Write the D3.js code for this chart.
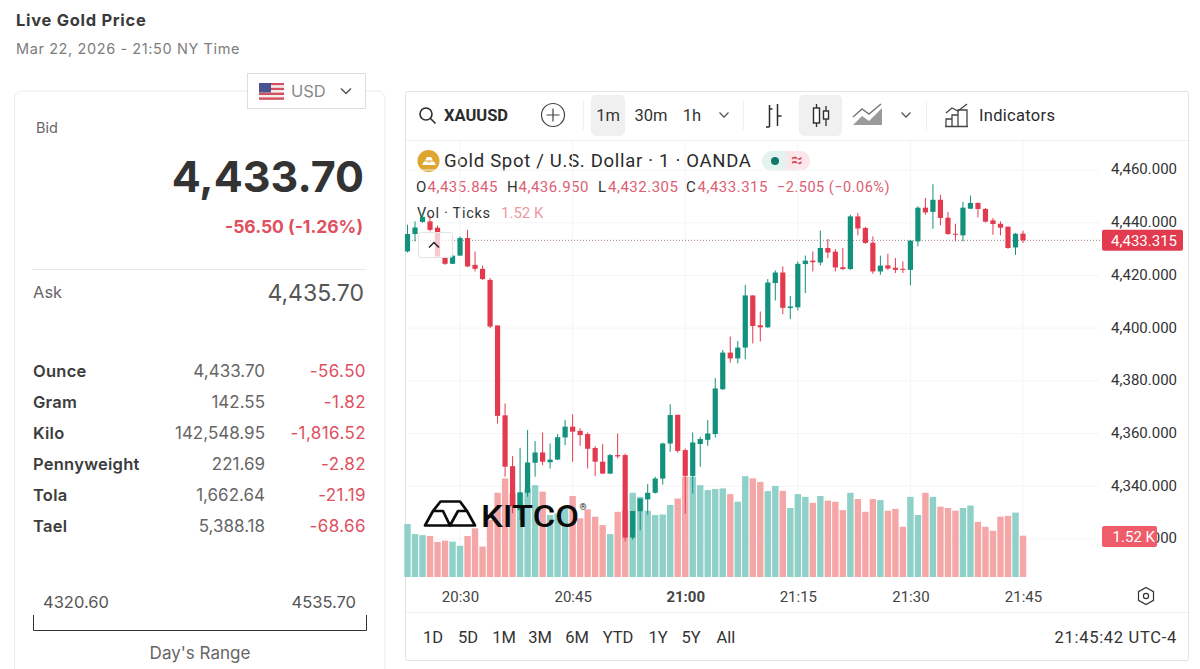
<!DOCTYPE html>
<html>
<head>
<meta charset="utf-8">
<title>Live Gold Price</title>
<script src="https://cdn.jsdelivr.net/npm/d3@7"></script>
<style>
html, body { margin: 0; padding: 0; background: #fff; overflow: hidden; }
svg { display: block; }
.ui { font-family: Inter, Lato, "Noto Sans", sans-serif; }
.tv { font-family: Roboto, "Noto Sans", sans-serif; }
</style>
</head>
<body>
<svg id="chart" width="1200" height="669"></svg>
<script>
// one minute candles, 20:23 to 21:45
var startMinute = 20 * 60 + 23;
var opens = [4429.1,4435.7,4440.3,4440.5,4438.1,4426.8,4424.4,4427.5,4434.2,4424.0,4422.5,4418.3,4401.0,4366.9,4347.6,4330.9,4337.5,4348.9,4352.8,4349.1,4350.1,4358.5,4362.6,4361.0,4359.8,4354.5,4349.3,4344.8,4351.8,4351.8,4320.5,4330.5,4335.0,4337.5,4342.9,4356.2,4367.1,4353.7,4343.9,4356.0,4357.6,4359.8,4376.8,4390.7,4388.5,4392.6,4412.4,4401.1,4400.3,4417.1,4421.1,4407.6,4407.9,4424.3,4425.6,4424.9,4430.4,4429.0,4423.1,4422.4,4442.4,4438.0,4432.4,4421.5,4423.8,4422.9,4422.5,4422.1,4432.9,4445.7,4444.1,4448.7,4441.9,4435.8,4435.2,4445.3,4447.5,4445.2,4440.9,4439.6,4438.5,4430.6,4435.845];
var highs = [4439.2,4440.5,4443.7,4442.7,4438.9,4427.2,4429.1,4434.8,4437.3,4429.1,4423.7,4419.0,4401.1,4371.4,4351.4,4354.6,4361.3,4357.1,4360.4,4356.2,4359.8,4365.1,4367.3,4362.0,4360.4,4355.2,4356.0,4352.2,4360.0,4352.4,4330.6,4335.3,4340.8,4343.6,4356.5,4371.1,4367.1,4354.3,4360.4,4358.8,4365.1,4381.0,4391.7,4396.8,4395.1,4416.4,4412.4,4406.3,4418.6,4421.9,4423.4,4412.2,4425.3,4427.5,4429.1,4437.0,4433.8,4430.0,4430.4,4443.0,4443.7,4438.4,4434.8,4427.5,4428.2,4426.6,4425.3,4433.4,4446.2,4449.4,4454.6,4450.6,4444.1,4439.6,4447.9,4450.3,4447.7,4445.6,4441.8,4440.5,4438.5,4436.1,4436.95];
var lows = [4428.7,4432.9,4440.0,4436.7,4427.0,4424.0,4424.3,4427.5,4423.1,4421.5,4418.3,4400.0,4363.8,4343.6,4329.7,4327.1,4336.0,4343.6,4348.0,4346.7,4349.9,4355.6,4349.3,4355.3,4346.7,4343.8,4344.6,4344.6,4350.5,4319.1,4319.7,4323.3,4329.2,4337.2,4340.6,4353.1,4352.7,4329.6,4337.2,4347.4,4355.3,4358.5,4376.5,4386.9,4386.6,4388.2,4394.2,4394.9,4400.1,4410.5,4405.3,4403.4,4406.7,4413.3,4421.5,4423.8,4426.6,4421.5,4422.1,4422.1,4435.2,4432.0,4420.6,4420.2,4422.1,4420.9,4420.9,4416.2,4431.0,4443.0,4437.7,4439.0,4435.4,4432.9,4432.9,4445.2,4442.0,4440.1,4435.4,4435.2,4430.1,4427.8,4432.305];
var closes = [4435.7,4438.2,4442.2,4437.3,4427.2,4424.4,4427.5,4434.2,4423.4,4422.5,4418.6,4400.6,4366.7,4347.4,4332.4,4337.7,4349.0,4352.8,4349.3,4350.1,4358.6,4362.6,4360.7,4359.4,4354.2,4349.3,4344.8,4351.8,4351.3,4320.5,4330.6,4335.3,4337.5,4342.9,4356.2,4367.0,4353.4,4343.9,4356.6,4357.9,4360.0,4377.1,4390.7,4388.5,4392.6,4412.4,4400.8,4400.3,4417.3,4421.1,4407.7,4408.2,4424.4,4425.6,4425.0,4430.4,4428.7,4423.0,4422.4,4442.4,4437.8,4432.3,4421.5,4423.7,4422.6,4422.1,4422.1,4433.2,4445.7,4443.9,4448.7,4441.8,4435.7,4435.6,4445.7,4447.5,4445.2,4440.4,4439.5,4438.1,4430.4,4435.8,4433.315];
var volumes = [1.95,1.58,1.54,1.51,1.29,1.34,1.30,1.15,1.51,1.79,1.12,2.10,3.10,3.63,3.08,3.08,3.26,3.38,3.14,2.28,2.34,2.52,2.98,2.16,2.49,2.22,1.91,1.58,2.40,2.46,3.10,2.95,2.44,2.28,2.30,2.65,2.89,3.69,3.69,3.38,3.20,3.24,3.26,3.05,2.77,3.71,3.63,3.50,3.16,3.35,3.17,2.54,3.05,2.95,2.73,2.98,2.81,2.77,2.46,3.10,2.87,2.40,2.87,2.83,2.44,2.51,1.85,2.95,2.28,3.10,2.95,2.59,2.54,2.44,2.54,2.63,2.03,1.85,1.70,2.22,2.25,2.37,1.52];

var priceTicks = [4320, 4340, 4360, 4380, 4400, 4420, 4440, 4460];
var timeTicks = ["20:30", "20:45", "21:00", "21:15", "21:30", "21:45"];
var lastPrice = 4433.315;
var lastVolume = 1.52;

var rangeButtons = ["1D", "5D", "1M", "3M", "6M", "YTD", "1Y", "5Y", "All"];
var unitNames = ["Ounce", "Gram", "Kilo", "Pennyweight", "Tola", "Tael"];
var unitPrices = ["4,433.70", "142.55", "142,548.95", "221.69", "1,662.64", "5,388.18"];
var unitChanges = ["-56.50", "-1.82", "-1,816.52", "-2.82", "-21.19", "-68.66"];
var ohlcLabels = ["O", "H", "L", "C"];
var ohlcValues = ["4,435.845", "4,436.950", "4,432.305", "4,433.315"];

var GREEN = "#12917c", RED = "#e23a4e", GREEN_VOL = "#8fd0c9", RED_VOL = "#f5a7a8";
var PALE_RED = "#dc6072";

var svg = d3.select("#chart");

function addText(parent, x, y, str, opts) {
    opts = opts || {};
    return parent.append("text")
        .attr("class", opts.cls || "ui")
        .attr("x", x).attr("y", y)
        .attr("dy", "0.35em")
        .attr("text-anchor", opts.anchor || "start")
        .attr("font-size", opts.size || 14)
        .attr("font-weight", opts.weight || 400)
        .attr("letter-spacing", opts.spacing || 0)
        .attr("fill", opts.fill || "#333")
        .text(str);
}

function parseMinute(d) {
    var parts = d.split(":");
    return +parts[0] * 60 + +parts[1];
}

// ---- scales
var x = d3.scaleLinear().domain([startMinute, parseMinute("21:45")]).range([407.5, 1023]);
var yPrice = d3.scaleLinear().domain([4360, 4440]).range([433.5, 222.7]);
var yVol = d3.scaleLinear().domain([0, lastVolume]).range([577, 535.7]);

var candles = d3.range(closes.length).map(function (i) {
    return {
        minute: startMinute + i, open: opens[i], high: highs[i], low: lows[i],
        close: closes[i], volume: volumes[i], up: closes[i] >= opens[i]
    };
});

// ---- left panel
function drawLeftPanel() {
    addText(svg, 16, 20, "Live Gold Price", { size: 16.5, weight: 700, spacing: 0.7, fill: "#3a3a3a" });
    addText(svg, 16, 49, "Mar 22, 2026 - 21:50 NY Time", { size: 14.5, spacing: 0.6, fill: "#7d7d7d" });

    svg.append("path")
        .attr("d", "M14.5,669V99a8,8 0 0 1 8,-8H377a8,8 0 0 1 8,8V669")
        .attr("fill", "#fff").attr("stroke", "#ebebeb");

    // currency picker
    svg.append("rect").attr("x", 247.5).attr("y", 73.5).attr("width", 118).attr("height", 35)
        .attr("fill", "#fff").attr("stroke", "#dedede");
    var flag = svg.append("g").attr("transform", "translate(259,83)");
    d3.range(7).forEach(function (i) {
        flag.append("rect").attr("y", i * 2.4).attr("width", 25).attr("height", 2.4)
            .attr("fill", i % 2 ? "#f3eeee" : "#d2505f");
    });
    flag.append("rect").attr("width", 12).attr("height", 9.5).attr("fill", "#4a5590");
    addText(svg, 291, 91, "USD", { size: 16.5, fill: "#8a8a8a" });
    svg.append("path").attr("d", "M341,88.5l5,5l5,-5").attr("fill", "none").attr("stroke", "#555").attr("stroke-width", 1.5);

    addText(svg, 36, 128, "Bid", { size: 14.5, fill: "#666" });
    addText(svg, 364, 177, "4,433.70", { size: 43, weight: 700, anchor: "end", fill: "#333" });
    addText(svg, 363, 227, "-56.50 (-1.26%)", { size: 17.5, weight: 700, anchor: "end", fill: "#e0505f" });
    svg.append("line").attr("x1", 32).attr("x2", 366).attr("y1", 269.5).attr("y2", 269.5).attr("stroke", "#e8e8e8");
    addText(svg, 33, 292.5, "Ask", { size: 16.5, fill: "#666" });
    addText(svg, 364, 292.5, "4,435.70", { size: 23, anchor: "end", fill: "#555" });

    var rowY = d3.scalePoint().domain(unitNames).range([371, 526]);
    unitNames.forEach(function (name, i) {
        addText(svg, 33, rowY(name), name, { size: 16.5, weight: 600, spacing: 0.25, fill: "#3c3c3c" });
        addText(svg, 265, rowY(name), unitPrices[i], { size: 17, anchor: "end", fill: "#666" });
        addText(svg, 366, rowY(name), unitChanges[i], { size: 17, spacing: 0.4, anchor: "end", fill: "#e0505f" });
    });

    addText(svg, 43, 602, "4320.60", { size: 16.5, fill: "#555" });
    addText(svg, 356, 602, "4535.70", { size: 16.5, anchor: "end", fill: "#555" });
    svg.append("path").attr("d", "M33.5,615V630.5H366.5V615").attr("fill", "none").attr("stroke", "#333");
    addText(svg, 200, 653, "Day's Range", { size: 17, anchor: "middle", fill: "#666" });
}

// ---- toolbar above the chart
function drawToolbar() {
    svg.append("rect").attr("x", 405.5).attr("y", 91.5).attr("width", 783).attr("height", 569)
        .attr("rx", 2).attr("fill", "#fff").attr("stroke", "#e2e2e2");
    svg.append("line").attr("x1", 406).attr("x2", 1188).attr("y1", 140.5).attr("y2", 140.5).attr("stroke", "#efefef");

    svg.append("rect").attr("x", 591).attr("y", 95).attr("width", 34).attr("height", 41).attr("rx", 5).attr("fill", "#f0f0f0");
    svg.append("rect").attr("x", 799).attr("y", 95).attr("width", 43).attr("height", 41).attr("rx", 5).attr("fill", "#f0f0f0");
    [583, 743, 926].forEach(function (px) {
        svg.append("line").attr("x1", px + 0.5).attr("x2", px + 0.5).attr("y1", 101).attr("y2", 130).attr("stroke", "#f0f0f0");
    });

    var ink = "#2b2b2b";
    function stroke(d, w, col) {
        return svg.append("path").attr("d", d).attr("fill", "none").attr("stroke", col || ink).attr("stroke-width", w || 1.4);
    }
    // magnifier
    svg.append("circle").attr("cx", 426).attr("cy", 114).attr("r", 6).attr("fill", "none").attr("stroke", ink).attr("stroke-width", 1.6);
    stroke("M430.5,118.5l5,5", 1.6);
    addText(svg, 444, 115, "XAUUSD", { cls: "tv", size: 16.5, weight: 700, fill: "#2b2b2b" });
    // compare button
    svg.append("circle").attr("cx", 553).attr("cy", 115).attr("r", 11.5).attr("fill", "none").attr("stroke", "#444").attr("stroke-width", 1.2);
    stroke("M553,108.5v13M546.5,115h13", 1.2, "#444");

    addText(svg, 608, 115, "1m", { cls: "tv", size: 16.5, anchor: "middle" });
    addText(svg, 651, 115, "30m", { cls: "tv", size: 16.5, anchor: "middle" });
    addText(svg, 692, 115, "1h", { cls: "tv", size: 16.5, anchor: "middle" });
    stroke("M719.5,112.5l4.5,4.5l4.5,-4.5", 1.3, "#555");

    // bar style icon
    stroke("M769.5,105v22M766,127h3.5M777.5,104v22M777.5,116h4M769.5,109h3", 1.5);
    // candle style icon
    stroke("M816.5,104v23M826,106v20", 1.3);
    svg.append("rect").attr("x", 813.5).attr("y", 108).attr("width", 6).attr("height", 15).attr("fill", "#fff").attr("stroke", ink).attr("stroke-width", 1.4);
    svg.append("rect").attr("x", 823.5).attr("y", 111).attr("width", 5).attr("height", 8).attr("fill", "#fff").attr("stroke", ink).attr("stroke-width", 1.4);
    // area style icon
    svg.append("path").attr("d", "M853,125l9,-9l7,5l13,-13v17z").attr("fill", "#9a9a9a");
    stroke("M853,117l9,-8l7,5l12,-10", 1.4, "#777");
    stroke("M901.5,112.5l4.5,4.5l4.5,-4.5", 1.3, "#555");
    // indicators icon
    stroke("M946,113l6,-5l6,3l9,-7", 1.3, "#444");
    stroke("M946,126v-7h6v7M952,126v-11h6v11M958,126v-16h9v16M945,126.5h23", 1.3, "#444");
    addText(svg, 979, 115, "Indicators", { cls: "tv", size: 16.5, spacing: 0.3, fill: "#2b2b2b" });

    // legend lines
    svg.append("circle").attr("cx", 428.5).attr("cy", 161).attr("r", 11).attr("fill", "#dea62f");
    svg.append("path").attr("d", "M422,165l2,-3.5h4l2,3.5zM428,165l2,-3.5h4l2,3.5zM425,160.5l2,-3.5h4l2,3.5z").attr("fill", "#fff");
    addText(svg, 444, 161, "Gold Spot / U.S. Dollar \u00b7 1 \u00b7 OANDA", { cls: "tv", size: 18.5, spacing: 0.7, fill: "#2b2b2b" });

    svg.append("rect").attr("x", 762).attr("y", 151).attr("width", 48).attr("height", 20).attr("rx", 10).attr("fill", "#e3f3f0");
    svg.append("path").attr("d", "M786,151h14a10,10 0 0 1 0,20h-14z").attr("fill", "#fbe6ea");
    svg.append("circle").attr("cx", 775).attr("cy", 161).attr("r", 4).attr("fill", "#12796a");
    addText(svg, 797, 160, "\u2248", { cls: "tv", size: 21, anchor: "middle", fill: "#d8465e" });

    var ohlcX = d3.scaleOrdinal().domain(ohlcLabels).range([416, 507, 598, 686]);
    ohlcLabels.forEach(function (lab, i) {
        addText(svg, ohlcX(lab), 187, lab, { cls: "tv", size: 15, spacing: 0.5, fill: "#333" });
        addText(svg, ohlcX(lab) + (lab === "L" ? 10 : 11.5), 187, ohlcValues[i], { cls: "tv", size: 15, spacing: 0.5, fill: PALE_RED });
    });
    addText(svg, 777, 187, "\u22122.505 (\u22120.06%)", { cls: "tv", size: 14.5, spacing: 0.5, fill: PALE_RED });

    addText(svg, 417, 213, "Vol \u00b7 Ticks", { cls: "tv", size: 14.5, spacing: 0.7, fill: "#333" });
    addText(svg, 501, 213, "1.52 K", { cls: "tv", size: 15, fill: "#eb9aa0" });
}

// ---- grid, volume, candles
function drawPlot() {
    var grid = svg.append("g").attr("stroke", "#f4f5f7");
    priceTicks.forEach(function (p) {
        grid.append("line").attr("x1", 406).attr("x2", 1099).attr("y1", yPrice(p)).attr("y2", yPrice(p));
    });
    timeTicks.forEach(function (t) {
        grid.append("line").attr("x1", x(parseMinute(t))).attr("x2", x(parseMinute(t))).attr("y1", 141).attr("y2", 577);
    });

    svg.append("g").selectAll("rect").data(candles).join("rect")
        .attr("x", function (d) { return x(d.minute) - 3.2; })
        .attr("width", 6.4)
        .attr("y", function (d) { return yVol(d.volume); })
        .attr("height", function (d) { return yVol(0) - yVol(d.volume); })
        .attr("fill", function (d) { return d.up ? GREEN_VOL : RED_VOL; });

    svg.append("line").attr("x1", 406).attr("x2", 1102)
        .attr("y1", yPrice(lastPrice)).attr("y2", yPrice(lastPrice))
        .attr("stroke", "#a0767c").attr("stroke-dasharray", "1 2");

    var marks = svg.append("g").selectAll("g").data(candles).join("g")
        .attr("fill", function (d) { return d.up ? GREEN : RED; })
        .attr("stroke", function (d) { return d.up ? GREEN : RED; });
    marks.append("line")
        .attr("x1", function (d) { return x(d.minute); })
        .attr("x2", function (d) { return x(d.minute); })
        .attr("y1", function (d) { return yPrice(d.high); })
        .attr("y2", function (d) { return yPrice(d.low); })
        .attr("stroke-width", 1);
    marks.append("rect")
        .attr("stroke", "none")
        .attr("x", function (d) { return x(d.minute) - 2.6; })
        .attr("width", 5.2)
        .attr("y", function (d) { return yPrice(Math.max(d.open, d.close)); })
        .attr("height", function (d) { return Math.max(1, Math.abs(yPrice(d.open) - yPrice(d.close))); });

    // collapse button sits over the first candles
    svg.append("rect").attr("x", 418.5).attr("y", 232.5).attr("width", 34).attr("height", 25).attr("rx", 2)
        .attr("fill", "#fff").attr("fill-opacity", 0.72).attr("stroke", "#e4e4e4");
    svg.append("path").attr("d", "M429,247.5l5,-5l5,5").attr("fill", "none").attr("stroke", "#222").attr("stroke-width", 1.5);

    // KITCO mark
    var logo = svg.append("g").attr("fill", "none").attr("stroke", "#0b0b0b").attr("stroke-width", 2.7).attr("stroke-linejoin", "round");
    logo.append("path").attr("d", "M425,525.5l8,-14.5h10l7,14.5z");
    logo.append("path").attr("d", "M450,525.5l8,-14.5h9l8,14.5z");
    logo.append("path").attr("d", "M433,511l7.5,-9.5h19.5l7,9.5");
    addText(svg, 481, 516, "KITCO", { cls: "tv", size: 31, weight: 500, fill: "#0b0b0b" })
        .attr("textLength", 98).attr("lengthAdjust", "spacingAndGlyphs");
    addText(svg, 583, 507, "\u00ae", { cls: "tv", size: 9, anchor: "middle", fill: "#222" });
}

// ---- axes and the two value tags
function drawAxes() {
    var priceAxis = d3.axisLeft(yPrice).tickValues(priceTicks).tickSize(0).tickPadding(0).tickFormat(d3.format(",.3f"));
    var py = svg.append("g").attr("transform", "translate(1177,0)").call(priceAxis);
    py.select(".domain").remove();
    py.selectAll("text").attr("class", "tv").attr("font-size", 15).attr("dy", "0.26em").attr("fill", "#333");

    var timeAxis = d3.axisBottom(x).tickValues(timeTicks.map(parseMinute)).tickSize(0).tickPadding(0)
        .tickFormat(function (d) { return timeTicks[timeTicks.map(parseMinute).indexOf(d)]; });
    var tx = svg.append("g").attr("transform", "translate(0,591)").call(timeAxis);
    tx.select(".domain").remove();
    tx.selectAll("text").attr("class", "tv").attr("font-size", 15).attr("fill", "#444")
        .attr("font-weight", function (d) { return d === parseMinute("21:00") ? 700 : 400; });

    // settings hexagon
    svg.append("path").attr("d", "M1146,587.5l7.5,4.2v8.6l-7.5,4.2l-7.5,-4.2v-8.6z").attr("fill", "none").attr("stroke", "#333").attr("stroke-width", 1.2);
    svg.append("circle").attr("cx", 1146).attr("cy", 596).attr("r", 2.6).attr("fill", "none").attr("stroke", "#333").attr("stroke-width", 1.2);

    svg.append("rect").attr("x", 1102).attr("y", yPrice(lastPrice) - 10.5).attr("width", 81).attr("height", 21).attr("rx", 2).attr("fill", RED);
    addText(svg, 1177, yPrice(lastPrice), d3.format(",.3f")(lastPrice), { cls: "tv", size: 15, anchor: "end", fill: "#fff" });
    svg.append("rect").attr("x", 1102).attr("y", 526).attr("width", 55).attr("height", 21).attr("rx", 2).attr("fill", "#ef5d6a");
    addText(svg, 1155, 536.5, "1.52 K", { cls: "tv", size: 15, anchor: "end", fill: "#fff" });

    // period row
    svg.append("line").attr("x1", 406).attr("x2", 1188).attr("y1", 612.5).attr("y2", 612.5).attr("stroke", "#efefef");
    var bx = d3.scaleOrdinal().domain(rangeButtons).range([433, 468, 504, 540, 577, 618, 658, 691, 726]);
    rangeButtons.forEach(function (b) {
        addText(svg, bx(b), 637, b, { cls: "tv", size: 16.5, anchor: "middle", fill: "#333" });
    });
    addText(svg, 1177, 637, "21:45:42 UTC-4", { cls: "tv", size: 16.5, spacing: 0.7, anchor: "end", fill: "#333" });
}

drawLeftPanel();
drawToolbar();
drawPlot();
drawAxes();
</script>
</body>
</html>
